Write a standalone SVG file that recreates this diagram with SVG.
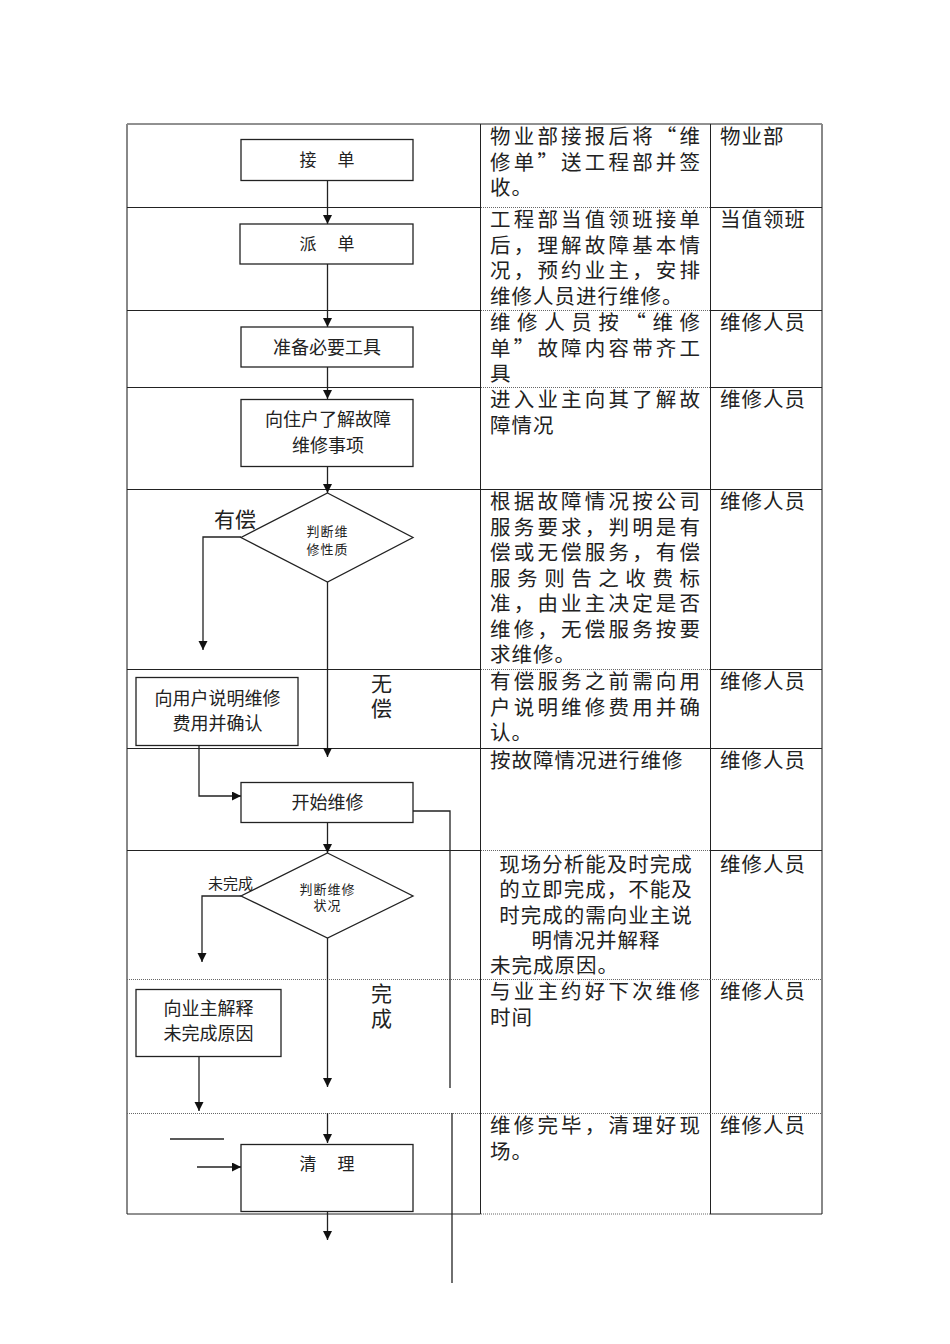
<svg xmlns="http://www.w3.org/2000/svg" width="950" height="1344" viewBox="0 0 950 1344">
<style>
  .tbl { stroke: #222; stroke-width: 1; fill: none; }
  .dot { stroke: #666; stroke-width: 1; stroke-dasharray: 1 1; fill: none; }
  .edge { stroke: #888; stroke-width: 2; fill: none; }
  .box { fill: #fff; stroke: #222; stroke-width: 1.3; }
  .ln { stroke: #222; stroke-width: 1.3; fill: none; }
  .arr { marker-end: url(#ah); }
  text { font-family: "Noto Sans CJK SC", "Noto Sans", sans-serif; fill: #222; }
  .c { text-anchor: middle; }
  .t21 { font-size: 20.5px; letter-spacing: 1px; }
  .f18 { font-size: 18px; }
  .f17 { font-size: 17px; letter-spacing: 2px; }
  .f13 { font-size: 13px; letter-spacing: 1px; }
  .f15 { font-size: 15px; }
  .f21 { font-size: 21px; }
</style>
<defs>
  <marker id="ah" markerUnits="userSpaceOnUse" markerWidth="10" markerHeight="10" refX="9" refY="4.5" orient="auto">
    <path d="M0,0 L9,4.5 L0,9 z" fill="#111"/>
  </marker>
</defs>
<rect width="950" height="1344" fill="#fff"/>

<g id="table">
  <line class="tbl" x1="127" y1="124" x2="822" y2="124"/>
  <line class="edge" x1="127" y1="124" x2="127" y2="1214"/>
  <line class="edge" x1="822" y1="124" x2="822" y2="1214"/>
  <line class="tbl" x1="480.5" y1="124" x2="480.5" y2="1214"/>
  <line class="tbl" x1="710.5" y1="124" x2="710.5" y2="1214"/>
  <path class="tbl" d="M127,207.5H480.5 M127,310.5H480.5 M127,387.5H480.5 M127,489.5H480.5 M127,669.5H480.5 M127,748.5H480.5 M127,850.5H480.5 M127,1214H480.5"/>
  <path class="dot" d="M127,979.5H480.5 M127,1113.5H480.5"/>
  <path class="dot" d="M481,207.5H710 M481,310.5H710 M481,387.5H710 M481,669.5H710 M481,850.5H710 M481,979.5H710 M481,1113.5H710 M481,1214H710"/>
  <path class="tbl" d="M481,489.5H710 M481,748.5H710"/>
  <path class="tbl" d="M710,207.5H822 M710,310.5H822 M710,387.5H822 M710,489.5H822 M710,669.5H822 M710,748.5H822 M710,850.5H822 M710,1214H822"/>
  <path class="dot" d="M710,979.5H822 M710,1113.5H822"/>
</g>

<g id="desc">
  <text class="t21"><tspan x="490" y="144" textLength="211" lengthAdjust="spacing">物业部接报后将“维</tspan><tspan x="490" y="169.5" textLength="211" lengthAdjust="spacing">修单”送工程部并签</tspan><tspan x="490" y="195">收。</tspan></text>

  <text class="t21"><tspan x="490" y="227" textLength="211" lengthAdjust="spacing">工程部当值领班接单</tspan><tspan x="490" y="252.5" textLength="211" lengthAdjust="spacing">后，理解故障基本情</tspan><tspan x="490" y="278" textLength="211" lengthAdjust="spacing">况，预约业主，安排</tspan><tspan x="490" y="303.5">维修人员进行维修。</tspan></text>

  <text class="t21"><tspan x="490" y="330" textLength="211" lengthAdjust="spacing">维修人员按“维修</tspan><tspan x="490" y="355.5" textLength="211" lengthAdjust="spacing">单”故障内容带齐工</tspan><tspan x="490" y="381">具</tspan></text>

  <text class="t21"><tspan x="490" y="407" textLength="211" lengthAdjust="spacing">进入业主向其了解故</tspan><tspan x="490" y="432.5">障情况</tspan></text>

  <text class="t21"><tspan x="490" y="509" textLength="211" lengthAdjust="spacing">根据故障情况按公司</tspan><tspan x="490" y="534.5" textLength="211" lengthAdjust="spacing">服务要求，判明是有</tspan><tspan x="490" y="560" textLength="211" lengthAdjust="spacing">偿或无偿服务，有偿</tspan><tspan x="490" y="585.5" textLength="211" lengthAdjust="spacing">服务则告之收费标</tspan><tspan x="490" y="611" textLength="211" lengthAdjust="spacing">准，由业主决定是否</tspan><tspan x="490" y="636.5" textLength="211" lengthAdjust="spacing">维修，无偿服务按要</tspan><tspan x="490" y="662">求维修。</tspan></text>

  <text class="t21"><tspan x="490" y="689" textLength="211" lengthAdjust="spacing">有偿服务之前需向用</tspan><tspan x="490" y="714.5" textLength="211" lengthAdjust="spacing">户说明维修费用并确</tspan><tspan x="490" y="740">认。</tspan></text>

  <text class="t21" x="490" y="768">按故障情况进行维修</text>

  <text class="t21"><tspan class="c" x="596" y="872">现场分析能及时完成</tspan><tspan class="c" x="596" y="897.3">的立即完成，不能及</tspan><tspan class="c" x="596" y="922.5">时完成的需向业主说</tspan><tspan class="c" x="596" y="947.8">明情况并解释</tspan><tspan x="490" y="973">未完成原因。</tspan></text>

  <text class="t21"><tspan x="490" y="999" textLength="211" lengthAdjust="spacing">与业主约好下次维修</tspan><tspan x="490" y="1024.5">时间</tspan></text>

  <text class="t21"><tspan x="490" y="1133" textLength="211" lengthAdjust="spacing">维修完毕，清理好现</tspan><tspan x="490" y="1158.5">场。</tspan></text>
</g>

<g id="roles">
  <text class="t21" x="720" y="144">物业部</text>
  <text class="t21" x="720" y="227">当值领班</text>
  <text class="t21" x="720" y="330">维修人员</text>
  <text class="t21" x="720" y="407">维修人员</text>
  <text class="t21" x="720" y="509">维修人员</text>
  <text class="t21" x="720" y="689">维修人员</text>
  <text class="t21" x="720" y="768">维修人员</text>
  <text class="t21" x="720" y="872">维修人员</text>
  <text class="t21" x="720" y="999">维修人员</text>
  <text class="t21" x="720" y="1133">维修人员</text>
</g>

<g id="connectors">
  <line class="ln arr" x1="327.5" y1="180" x2="327.5" y2="224"/>
  <line class="ln arr" x1="327.5" y1="264" x2="327.5" y2="327"/>
  <line class="ln arr" x1="327.5" y1="367" x2="327.5" y2="399"/>
  <line class="ln arr" x1="327.5" y1="467" x2="327.5" y2="493"/>
  <polyline class="ln arr" points="241,537 203,537 203,650"/>
  <line class="ln arr" x1="327.5" y1="582" x2="327.5" y2="757"/>
  <polyline class="ln arr" points="199,745 199,796 241,796"/>
  <polyline class="ln" points="413,811 450,811 450,1088"/>
  <line class="ln arr" x1="327.5" y1="823" x2="327.5" y2="853"/>
  <polyline class="ln arr" points="241,896 202,896 202,962"/>
  <line class="ln arr" x1="327.5" y1="938" x2="327.5" y2="1087"/>
  <line class="ln arr" x1="199" y1="1057" x2="199" y2="1111"/>
  <line class="ln arr" x1="327.5" y1="1113" x2="327.5" y2="1143"/>
  <line class="ln" x1="170" y1="1139" x2="224" y2="1139"/>
  <line class="ln arr" x1="197" y1="1167" x2="241" y2="1167"/>
  <line class="ln arr" x1="327.5" y1="1212" x2="327.5" y2="1240"/>
  <line class="ln" x1="452" y1="1113" x2="452" y2="1283"/>
</g>

<g id="n-jiedan">
  <rect class="box" x="241" y="139.5" width="172" height="41"/>
  <text class="f17 c" x="328" y="166">接　单</text>
</g>
<g id="n-paidan">
  <rect class="box" x="240" y="224" width="173" height="40"/>
  <text class="f17 c" x="328" y="249.5">派　单</text>
</g>
<g id="n-tools">
  <rect class="box" x="241" y="327" width="172" height="40"/>
  <text class="f18 c" x="327" y="353.5">准备必要工具</text>
</g>
<g id="n-ask">
  <rect class="box" x="241" y="399.5" width="172" height="67"/>
  <text class="f18 c"><tspan x="328" y="425.5">向住户了解故障</tspan><tspan x="328" y="451.5">维修事项</tspan></text>
</g>
<g id="n-judge1">
  <polygon class="box" points="327.5,493 413,537.5 327.5,582 241,537.5"/>
  <text class="f13 c"><tspan x="327.5" y="535.5">判断维</tspan><tspan x="327.5" y="554">修性质</tspan></text>
</g>
<g id="lbl-youchang"><text class="f21" x="214" y="527">有偿</text></g>
<g id="lbl-wuchang">
  <text class="f21 c"><tspan x="381.5" y="691">无</tspan><tspan x="381.5" y="716">偿</tspan></text>
</g>
<g id="n-explain-fee">
  <rect class="box" x="136" y="677.5" width="162" height="68"/>
  <text class="f18 c"><tspan x="217.5" y="704.5">向用户说明维修</tspan><tspan x="217.5" y="729.5">费用并确认</tspan></text>
</g>
<g id="n-start">
  <rect class="box" x="241" y="782.5" width="172" height="40"/>
  <text class="f18 c" x="327.5" y="809">开始维修</text>
</g>
<g id="n-judge2">
  <polygon class="box" points="327.5,853 413,896 327.5,938 241,896"/>
  <text class="f13 c"><tspan x="327.5" y="894">判断维修</tspan><tspan x="327.5" y="909.5">状况</tspan></text>
</g>
<g id="lbl-weiwancheng"><text class="f15" x="208" y="888.5">未完成</text></g>
<g id="lbl-wancheng">
  <text class="f21 c"><tspan x="381.5" y="1001">完</tspan><tspan x="381.5" y="1026">成</tspan></text>
</g>
<g id="n-explain-unfinished">
  <rect class="box" x="136" y="989.5" width="145" height="67"/>
  <text class="f18 c"><tspan x="208.5" y="1014.5">向业主解释</tspan><tspan x="208.5" y="1039.5">未完成原因</tspan></text>
</g>
<g id="n-clean">
  <rect class="box" x="241" y="1144.5" width="172" height="67"/>
  <text class="f17 c" x="328" y="1170">清　理</text>
</g>
</svg>
